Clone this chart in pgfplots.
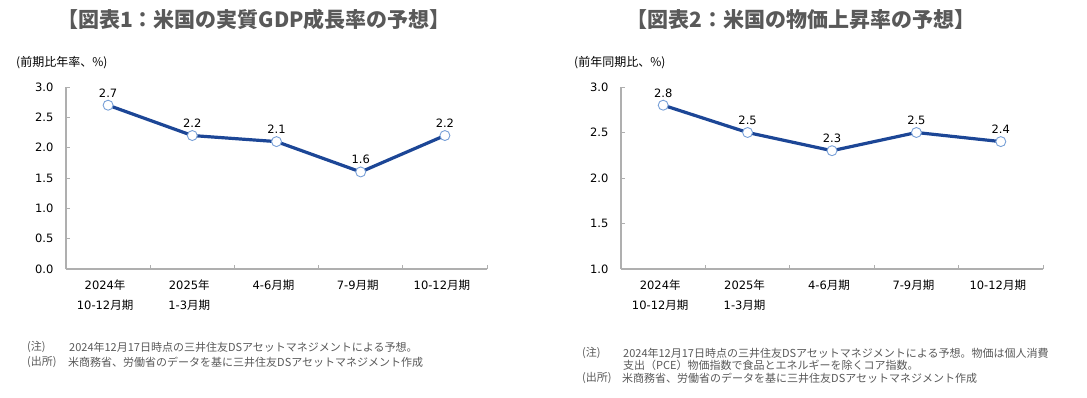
\documentclass[border=0pt]{standalone}
\usepackage{fontspec}
\setmainfont{DejaVu Sans}
\newfontfamily\jp{Noto Sans CJK JP}
\usepackage{pgfplots}
\pgfplotsset{compat=1.18}
\definecolor{lineblue}{RGB}{28,70,150}
\definecolor{markblue}{RGB}{120,160,215}
\definecolor{axisgray}{RGB}{175,175,175}
\definecolor{titlegray}{RGB}{89,89,89}
\definecolor{notegray}{RGB}{89,89,89}
\newcommand{\J}[1]{{\jp #1}}
\pgfplotsset{
  mychart/.style={
    scale only axis,
    anchor=south west,
    height=182pt,
    xmin=0, xmax=5,
    axis x line*=bottom, axis y line*=left,
    axis line style={draw=axisgray, line width=1.2pt, -},
    tick align=inside,
    major tick length=4pt,
    tick style={draw=axisgray, line width=0.8pt},
    xtick={0,1,2,3,4,5},
    xticklabels={},
    extra x ticks={0.5,1.5,2.5,3.5,4.5},
    extra x tick labels={{2024\J{年}\\10-12\J{月期}},{2025\J{年}\\1-3\J{月期}},{4-6\J{月期}},{7-9\J{月期}},{10-12\J{月期}}},
    extra x tick style={major tick length=0pt, xticklabel style={align=center, anchor=north, font=\fontsize{11.5}{20}\selectfont, yshift=-7pt, xshift=-3pt}},
    yticklabel style={font=\fontsize{11.5}{14}\selectfont, xshift=-9pt},
    /pgf/number format/.cd, fixed, fixed zerofill, precision=1, assume math mode=true,
    /pgfplots/.cd,
    clip=false,
    nodes near coords,
    every node near coord/.append style={font=\fontsize{11.5}{14}\selectfont, yshift=4pt, black},
  },
  myline/.style={color=lineblue, line width=3.2pt, mark=*, mark size=5pt,
    mark options={fill=white, draw=markblue, line width=0.9pt}},
}
\begin{document}
\begin{tikzpicture}[x=1pt,y=1pt]
\path[use as bounding box] (0,0) rectangle (1087,397);
% titles
\node[text=titlegray, font=\jp\bfseries\fontsize{21}{24}\selectfont] at (254,377) {【図表1：米国の実質GDP成長率の予想】};
\node[text=titlegray, font=\jp\bfseries\fontsize{21}{24}\selectfont] at (801,377) {【図表2：米国の物価上昇率の予想】};
% unit labels
\node[anchor=west, inner sep=0pt, font=\jp\fontsize{12}{14}\selectfont] at (16,334) {(前期比年率、\%)};
\node[anchor=west, inner sep=0pt, font=\jp\fontsize{12}{14}\selectfont] at (574,334) {(前年同期比、\%)};
% left chart
\begin{axis}[mychart, at={(66pt,128pt)}, width=421pt,
  ymin=0, ymax=3, ytick={0,0.5,1,1.5,2,2.5,3}]
\addplot[myline] coordinates {(0.5,2.7) (1.5,2.2) (2.5,2.1) (3.5,1.6) (4.5,2.2)};
\end{axis}
% right chart
\begin{axis}[mychart, at={(621pt,128pt)}, width=422pt,
  ymin=1, ymax=3, ytick={1,1.5,2,2.5,3}]
\addplot[myline] coordinates {(0.5,2.8) (1.5,2.5) (2.5,2.3) (3.5,2.5) (4.5,2.4)};
\end{axis}
% notes
\begin{scope}[every node/.style={anchor=west, inner sep=0pt, text=notegray, font=\jp\fontsize{11}{13}\selectfont}]
\node at (27,50) {(注)};
\node at (69,50) {2024年12月17日時点の三井住友DSアセットマネジメントによる予想。};
\node at (27,35) {(出所)};
\node at (68,35) {米商務省、労働省のデータを基に三井住友DSアセットマネジメント作成};
\node at (582,44) {(注)};
\node at (623,44) {2024年12月17日時点の三井住友DSアセットマネジメントによる予想。物価は個人消費};
\node at (623,31.5) {支出（PCE）物価指数で食品とエネルギーを除くコア指数。};
\node at (582,19) {(出所)};
\node at (622,19) {米商務省、労働省のデータを基に三井住友DSアセットマネジメント作成};
\end{scope}
\end{tikzpicture}
\end{document}
